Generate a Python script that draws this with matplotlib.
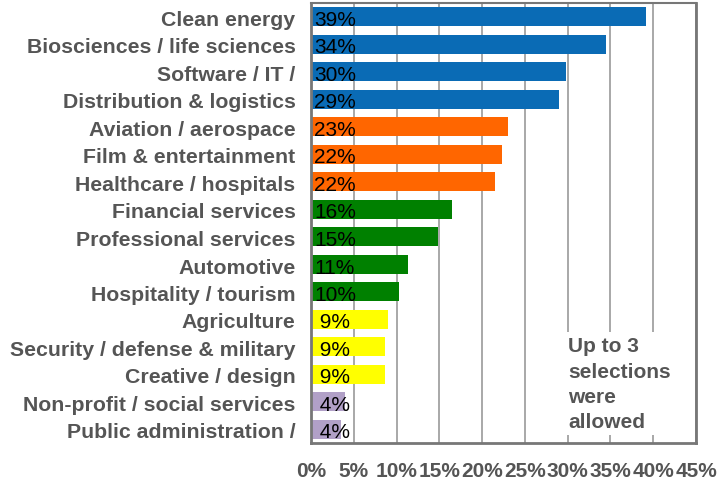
import matplotlib
matplotlib.use("Agg")
import matplotlib.pyplot as plt

plt.rcParams['font.family'] = ['Liberation Sans', 'DejaVu Sans']

# industries, top to bottom
industries = [
    "Clean energy", "Biosciences / life sciences", "Software / IT /",
    "Distribution & logistics", "Aviation / aerospace", "Film & entertainment",
    "Healthcare / hospitals", "Financial services", "Professional services",
    "Automotive", "Hospitality / tourism", "Agriculture",
    "Security / defense & military", "Creative / design",
    "Non-profit / social services", "Public administration /",
]
shares = [39.2, 34.5, 29.8, 29.0, 23.0, 22.3, 21.5, 16.5, 14.9, 11.3, 10.3,
          9.0, 8.7, 8.7, 4.0, 3.5]
labels = [39, 34, 30, 29, 23, 22, 22, 16, 15, 11, 10, 9, 9, 9, 4, 4]
groups = ["a"] * 4 + ["b"] * 3 + ["c"] * 4 + ["d"] * 3 + ["e"] * 2
group_colors = {"a": "#0A6BB5", "b": "#FF6600", "c": "#008000",
                "d": "#FFFF00", "e": "#B1A0C7"}
xticks = [0, 5, 10, 15, 20, 25, 30, 35, 40, 45]

gray = "#555555"

fig = plt.figure(figsize=(7.17, 4.81), dpi=100)
ax = fig.add_axes([311 / 717, 1 - 444 / 481, 385 / 717, 440 / 481])

ypos = list(range(len(industries)))
ax.barh(ypos, shares, height=0.69, color=[group_colors[g] for g in groups],
        zorder=2)

for y, v in zip(ypos, labels):
    ax.text(0.35, y + 0.3, f"{v:2d}%", fontsize=15, color="black",
            va="baseline", ha="left", zorder=3)

for y, name in zip(ypos, industries):
    ax.text(-0.04, y + 0.3, name, transform=ax.get_yaxis_transform(),
            fontsize=15.3, fontweight="bold", color=gray, ha="right",
            va="baseline")

ax.set_ylim(len(industries) - 0.5, -0.5)
ax.set_xlim(0, 45)
ax.set_yticks([])
ax.set_xticks(xticks)
ax.set_xticklabels([f"{t}%" for t in xticks], fontsize=15,
                   fontweight="bold", color=gray)
ax.tick_params(axis="x", length=0, pad=13)
ax.grid(axis="x", color="#999999", linewidth=1.2, zorder=1)
ax.set_axisbelow(True)

for side, spine in ax.spines.items():
    spine.set_color("#777777")
    spine.set_linewidth(2 if side != "top" else 1.5)

ax.text(30.05, 11.62, "Up to 3\nselections\nwere\nallowed", fontsize=15,
        fontweight="bold", color=gray, ha="left", va="top", linespacing=1.42,
        zorder=4, bbox=dict(facecolor="white", edgecolor="none", pad=3))

fig.savefig("out.png", dpi=100)
